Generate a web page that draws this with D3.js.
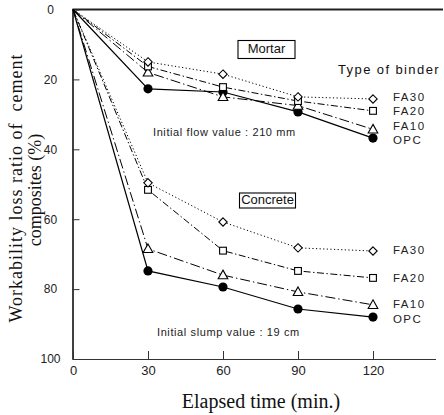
<!DOCTYPE html>
<html>
<head>
<meta charset="utf-8">
<script src="https://cdn.jsdelivr.net/npm/d3@7"></script>
<style>
  html, body { margin: 0; padding: 0; background: #fff; }
  svg { display: block; }
</style>
</head>
<body>
<div id="chart"></div>
<script>
// Workability loss ratio of cement composites vs elapsed time

const times = [0, 30, 60, 90, 120];
const binders = ['FA30', 'FA20', 'FA10', 'OPC'];

const mortarFA30 = [0, 15, 18.5, 25, 25.6];
const mortarFA20 = [0, 16.3, 22.2, 26.2, 29];
const mortarFA10 = [0, 18, 25, 27.5, 34.3];
const mortarOPC = [0, 22.7, 23.6, 29.3, 36.8];

const concreteFA30 = [0, 49.6, 60.8, 68.2, 69.1];
const concreteFA20 = [0, 51.6, 69, 74.8, 76.8];
const concreteFA10 = [0, 68.5, 76, 80.8, 84.5];
const concreteOPC = [0, 74.8, 79.4, 85.7, 88];

const yTicks = [0, 20, 40, 60, 80, 100];
const xTicks = [0, 30, 60, 90, 120];

(function () {
  const W = 444, H = 415;
  const sans = 'Liberation Sans, Arial, Helvetica, sans-serif';
  const serif = 'Liberation Serif, Times New Roman, serif';

  const svg = d3.select('#chart').append('svg')
    .attr('width', W).attr('height', H);
  svg.append('rect').attr('width', W).attr('height', H).attr('fill', '#fff');

  const x = d3.scaleLinear().domain([0, 145]).range([73, 435.5]);
  const y = d3.scaleLinear().domain([0, 100]).range([9.5, 359]);

  // marker / line style per binder
  const style = {
    FA30: { dash: '1.2,2.4', shape: 'diamond', width: 1 },
    FA20: { dash: '7,2.5,1.4,2.5', shape: 'square', width: 1 },
    FA10: { dash: '10,3,1.4,3', shape: 'triangle', width: 1 },
    OPC: { dash: null, shape: 'circle', width: 1.2 }
  };

  // label nudges keep the tight mortar labels from touching
  const groups = [
    { name: 'Mortar', series: { FA30: mortarFA30, FA20: mortarFA20, FA10: mortarFA10, OPC: mortarOPC }, nudge: { FA30: -1.5, FA20: 1, FA10: -2, OPC: 3 } },
    { name: 'Concrete', series: { FA30: concreteFA30, FA20: concreteFA20, FA10: concreteFA10, OPC: concreteOPC }, nudge: { FA30: 0, FA20: 1.5, FA10: 0, OPC: 2.5 } }
  ];

  // axes
  svg.append('g')
    .attr('transform', `translate(${x(0) - 0.5},0)`)
    .call(d3.axisLeft(y).tickValues(yTicks).tickSizeInner(-7).tickSizeOuter(0))
    .call((g) => g.select('.domain').attr('stroke', '#111').attr('stroke-width', 1.6))
    .call((g) => g.selectAll('line').attr('stroke', '#333').attr('stroke-width', 1))
    .call((g) => g.selectAll('text')
      .attr('x', -22).attr('text-anchor', 'middle')
      .attr('font-family', sans).attr('font-size', 12).attr('fill', '#222'));

  svg.append('g')
    .attr('transform', `translate(0,${y(100)})`)
    .call(d3.axisBottom(x).tickValues(xTicks).tickSizeInner(-8).tickSizeOuter(0))
    .call((g) => g.select('.domain').attr('stroke', '#333').attr('stroke-width', 1.2))
    .call((g) => g.selectAll('line').attr('stroke', '#333').attr('stroke-width', 1))
    .call((g) => g.selectAll('text')
      .attr('y', 13).attr('dy', null)
      .attr('dominant-baseline', 'middle')
      .attr('font-family', sans).attr('font-size', 13).attr('fill', '#222'));

  // top frame line
  svg.append('line')
    .attr('x1', x(0) - 0.5).attr('x2', x(148))
    .attr('y1', y(0)).attr('y2', y(0))
    .attr('stroke', '#222').attr('stroke-width', 1.8);

  const line = d3.line().x((d) => x(d[0])).y((d) => y(d[1]));

  function marker(g, shape, cx, cy) {
    if (shape === 'circle') {
      g.append('circle').attr('cx', cx).attr('cy', cy).attr('r', 4.6).attr('fill', '#000');
    } else if (shape === 'diamond') {
      g.append('path').attr('d', `M${cx},${cy - 4.2}L${cx + 4.2},${cy}L${cx},${cy + 4.2}L${cx - 4.2},${cy}Z`)
        .attr('fill', '#fff').attr('stroke', '#000').attr('stroke-width', 1.1);
    } else if (shape === 'square') {
      g.append('rect').attr('x', cx - 3.4).attr('y', cy - 3.4).attr('width', 6.8).attr('height', 6.8)
        .attr('fill', '#fff').attr('stroke', '#000').attr('stroke-width', 1.1);
    } else if (shape === 'triangle') {
      g.append('path').attr('d', `M${cx},${cy - 5}L${cx + 4.8},${cy + 3.6}L${cx - 4.8},${cy + 3.6}Z`)
        .attr('fill', '#fff').attr('stroke', '#000').attr('stroke-width', 1.1);
    }
  }

  const drawOrder = ['OPC', 'FA10', 'FA20', 'FA30'];

  groups.forEach((grp) => {
    const g = svg.append('g');
    drawOrder.forEach((b) => {
      const pts = times.map((t, i) => [t, grp.series[b][i]]);
      g.append('path')
        .attr('d', line(pts))
        .attr('fill', 'none')
        .attr('stroke', '#000')
        .attr('stroke-width', style[b].width)
        .attr('stroke-dasharray', style[b].dash);
    });
    drawOrder.forEach((b) => {
      times.forEach((t, i) => {
        if (t === 0) return;
        marker(g, style[b].shape, x(t), y(grp.series[b][i]));
      });
    });
    binders.forEach((b) => {
      const last = grp.series[b][times.length - 1];
      g.append('text')
        .attr('x', x(120) + 20)
        .attr('y', y(last) + grp.nudge[b])
        .attr('dominant-baseline', 'middle')
        .attr('font-family', sans)
        .attr('font-size', 11.5)
        .attr('letter-spacing', 1.4)
        .attr('fill', '#222')
        .text(b);
    });
  });

  // boxed labels
  function boxLabel(label, cx, cy, bw, bh) {
    svg.append('rect')
      .attr('x', cx - bw / 2).attr('y', cy - bh / 2)
      .attr('width', bw).attr('height', bh)
      .attr('fill', '#fff').attr('stroke', '#000').attr('stroke-width', 1.1);
    svg.append('text')
      .attr('x', cx).attr('y', cy + 0.5)
      .attr('text-anchor', 'middle').attr('dominant-baseline', 'middle')
      .attr('font-family', sans).attr('font-size', 13).attr('fill', '#111')
      .text(label);
  }
  boxLabel('Mortar', 266.5, 49.5, 57, 18);
  boxLabel('Concrete', 267.5, 200.5, 56, 15);

  svg.append('text')
    .attr('x', 338).attr('y', 71)
    .attr('dominant-baseline', 'middle')
    .attr('font-family', sans).attr('font-size', 13).attr('letter-spacing', 1.4)
    .attr('fill', '#111')
    .text('Type of binder');

  svg.append('text')
    .attr('x', 153).attr('y', 133)
    .attr('dominant-baseline', 'middle')
    .attr('font-family', sans).attr('font-size', 11).attr('letter-spacing', 0.6)
    .attr('fill', '#222')
    .text('Initial flow value : 210 mm');

  svg.append('text')
    .attr('x', 157).attr('y', 333)
    .attr('dominant-baseline', 'middle')
    .attr('font-family', sans).attr('font-size', 11).attr('letter-spacing', 0.6)
    .attr('fill', '#222')
    .text('Initial slump value : 19 cm');

  // axis titles
  svg.append('text')
    .attr('x', 261).attr('y', 403)
    .attr('text-anchor', 'middle').attr('dominant-baseline', 'middle')
    .attr('font-family', serif).attr('font-size', 20).attr('fill', '#111')
    .text('Elapsed time (min.)');

  svg.append('text')
    .attr('transform', 'translate(18,188) rotate(-90)')
    .attr('text-anchor', 'middle').attr('dominant-baseline', 'middle')
    .attr('font-family', serif).attr('font-size', 18).attr('letter-spacing', 1)
    .attr('fill', '#111')
    .attr('xml:space', 'preserve')
    .style('white-space', 'pre')
    .text('Workability loss ratio of  cement');

  svg.append('text')
    .attr('transform', 'translate(37,190) rotate(-90)')
    .attr('text-anchor', 'middle').attr('dominant-baseline', 'middle')
    .attr('font-family', serif).attr('font-size', 18)
    .attr('fill', '#111')
    .text('composites (%)');
})();
</script>
</body>
</html>
